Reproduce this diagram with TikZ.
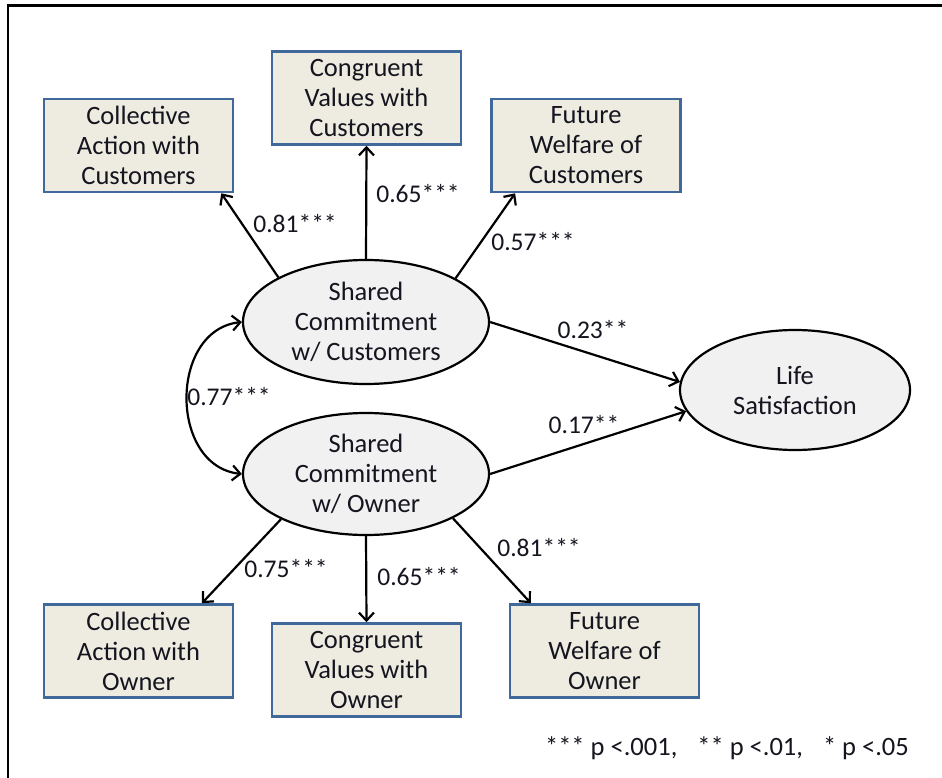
\documentclass[tikz,border=0pt]{standalone}
\usepackage{fontspec}
\setmainfont{Carlito}
\usetikzlibrary{shapes.geometric,arrows.meta}
\definecolor{boxfill}{HTML}{EEECE1}
\definecolor{boxline}{HTML}{41689A}
\definecolor{ovalfill}{HTML}{F1F1F1}
\definecolor{ink}{HTML}{15151F}
\begin{document}
\begin{tikzpicture}[x=1pt,y=-1pt,
  txt/.style={font=\fontsize{26.5}{30}\selectfont, text=ink},
  indicator/.style={txt, draw=boxline, fill=boxfill, line width=2.6pt,
    minimum width=189pt, minimum height=93pt, inner sep=0pt, align=center},
  factor/.style={txt, ellipse, draw=black, fill=ovalfill, line width=2.2pt,
    inner sep=0pt, align=center},
  coef/.style={font=\fontsize{25.5}{30}\selectfont, text=ink, inner sep=1pt},
  path/.style={line width=2.2pt, -{Straight Barb[length=8pt,width=15pt,line width=2.2pt]}},
  covar/.style={line width=2.2pt, {Straight Barb[length=8pt,width=15pt,line width=2.2pt]}-{Straight Barb[length=8pt,width=15pt,line width=2.2pt]}}
]
\useasboundingbox (0,0) rectangle (942,778);
\fill[white] (0,0) rectangle (942,778);

% frame
\draw[line width=2.2pt] (942,5.5) -- (8.3,5.5) -- (8.3,778);

% latent factors
\node[factor, minimum width=246pt, minimum height=124pt] (scc) at (366,322)
  {Shared\\Commitment\\w/ Customers};
\node[factor, minimum width=246pt, minimum height=122pt] (sco) at (366,474)
  {Shared\\Commitment\\w/ Owner};
\node[factor, minimum width=230pt, minimum height=120pt] (ls) at (795,390)
  {Life\\Satisfaction};

% indicators
\node[indicator] (ca1) at (138.5,145.5) {Collective\\Action with\\Customers};
\node[indicator] (cv1) at (366.5,98)    {Congruent\\Values with\\Customers};
\node[indicator] (fw1) at (586,145.5)   {Future\\Welfare of\\Customers};
\node[indicator] (ca2) at (138.5,651)   {Collective\\Action with\\Owner};
\node[indicator] (cv2) at (366.5,670)   {Congruent\\Values with\\Owner};
\node[indicator] (fw2) at (604.5,651)   {Future\\Welfare of\\Owner};

% loadings
\draw[path] (scc.153) -- (ca1.-30);
\draw[path] (scc.north) -- (cv1.south);
\draw[path] (scc.26) -- (fw1.214);
\draw[path] (sco.208) -- (ca2.37);
\draw[path] (sco.south) -- (cv2.north);
\draw[path] (sco.-27) -- (fw2.147);

% structural paths
\draw[path] (scc.east) -- (ls.176);
\draw[path] (sco.east) -- (ls.191);

% factor covariance
\draw[covar] (scc.west) .. controls +(-73,8) and +(-73,-8) .. (sco.west);

% coefficients
\node[coef] (k1) at (295,224) {0.81***};
\node[coef] (k2) at (418,194) {0.65***};
\node[coef] (k3) at (533,242) {0.57***};
\node[coef] (k4) at (593,330) {0.23**};
\node[coef] (k5) at (584,425) {0.17**};
\node[coef] (k6) at (229,397) {0.77***};
\node[coef] (k7) at (286,569) {0.75***};
\node[coef] (k8) at (419,577) {0.65***};
\node[coef] (k9) at (539,548) {0.81***};

% significance key
\node[coef, font=\fontsize{26.5}{30}\selectfont] (key) at (727,748)
  {*** p <.001,\hspace{20pt}** p <.01,\hspace{20pt}* p <.05};
\end{tikzpicture}
\end{document}
